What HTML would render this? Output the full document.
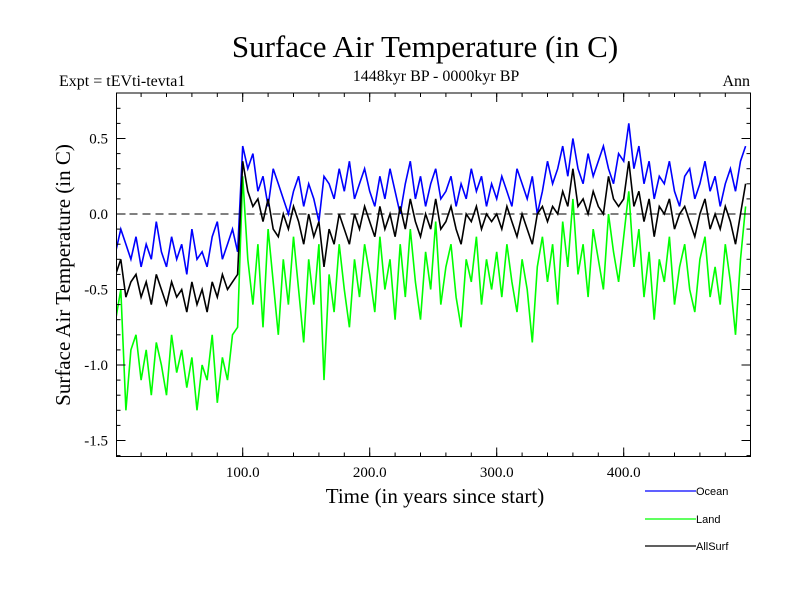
<!DOCTYPE html>
<html><head><meta charset="utf-8"><style>
html,body{margin:0;padding:0;background:#fff;}
svg{display:block;font-family:"Liberation Serif",serif;}
</style></head><body>
<svg id="chart" width="800" height="600">
<text x="425" y="57" font-size="31" text-anchor="middle">Surface Air Temperature (in C)</text>
<text x="59" y="86" font-size="16">Expt = tEVti-tevta1</text>
<text x="436" y="81" font-size="16" text-anchor="middle">1448kyr BP - 0000kyr BP</text>
<text x="750" y="86" font-size="16" text-anchor="end">Ann</text>
<text x="435" y="503" font-size="21" text-anchor="middle">Time (in years since start)</text>
<text transform="translate(70,275) rotate(-90)" font-size="21" text-anchor="middle">Surface Air Temperature (in C)</text>
<g id="plot"></g>
<g id="legend" font-family="Liberation Sans, sans-serif" font-size="11">
<g><line x1="645" y1="491" x2="696" y2="491" stroke="#0000ff" stroke-width="1.2"/><text x="696" y="495">Ocean</text></g>
<g><line x1="645" y1="519" x2="696" y2="519" stroke="#00ff00" stroke-width="1.2"/><text x="696" y="523">Land</text></g>
<g><line x1="645" y1="546" x2="696" y2="546" stroke="#000" stroke-width="1.2"/><text x="696" y="550">AllSurf</text></g>
</g>
</svg>
<script>
const years = []; for (let i = 0; i < 125; i++) years.push(i * 4);
const ocean = [-0.25,-0.1,-0.2,-0.3,-0.15,-0.35,-0.2,-0.3,-0.05,-0.25,-0.35,-0.15,-0.3,-0.2,-0.4,-0.1,-0.3,-0.25,-0.35,-0.15,-0.05,-0.3,-0.2,-0.1,-0.25,
0.45,0.3,0.4,0.15,0.25,0.05,0.3,0.2,0.1,0.0,0.15,0.25,0.05,0.2,0.1,-0.05,0.25,0.2,0.1,0.3,0.15,0.35,0.1,0.2,0.3,
0.15,0.05,0.25,0.1,0.3,0.15,0.0,0.2,0.35,0.1,0.25,0.05,0.2,0.3,0.1,0.15,0.25,0.05,0.2,0.1,0.3,0.15,0.25,0.05,0.2,
0.1,0.25,0.15,0.05,0.3,0.2,0.1,0.25,0.0,0.15,0.35,0.2,0.3,0.45,0.25,0.5,0.3,0.2,0.4,0.25,0.35,0.45,0.3,0.2,0.4,
0.35,0.6,0.3,0.45,0.2,0.35,0.1,0.25,0.2,0.35,0.15,0.05,0.25,0.3,0.1,0.2,0.35,0.15,0.25,0.05,0.2,0.3,0.15,0.35,0.45];
const land = [-0.7,-0.5,-1.3,-0.9,-0.8,-1.1,-0.9,-1.2,-0.85,-1.0,-1.2,-0.8,-1.05,-0.9,-1.15,-0.95,-1.3,-1.0,-1.1,-0.8,-1.25,-0.95,-1.1,-0.8,-0.75,
0.25,-0.3,-0.6,-0.2,-0.75,-0.1,-0.45,-0.8,-0.3,-0.6,-0.15,-0.5,-0.85,-0.3,-0.6,-0.2,-1.1,-0.4,-0.65,-0.2,-0.5,-0.75,-0.3,-0.55,-0.2,
-0.4,-0.65,-0.15,-0.5,-0.3,-0.7,-0.2,-0.55,-0.1,-0.45,-0.7,-0.25,-0.5,-0.05,-0.6,-0.35,-0.2,-0.55,-0.75,-0.3,-0.45,-0.15,-0.6,-0.3,-0.5,
-0.25,-0.55,-0.2,-0.45,-0.65,-0.3,-0.5,-0.85,-0.35,-0.15,-0.45,-0.2,-0.6,-0.05,-0.35,0.1,-0.4,-0.2,-0.55,-0.1,-0.3,-0.5,0.0,-0.25,-0.45,
-0.15,0.15,-0.35,-0.1,-0.55,-0.25,-0.7,-0.3,-0.45,-0.15,-0.6,-0.35,-0.2,-0.5,-0.65,-0.3,-0.15,-0.55,-0.35,-0.6,-0.2,-0.45,-0.8,-0.3,0.05];
const allsurf = [-0.4,-0.3,-0.55,-0.45,-0.4,-0.55,-0.45,-0.6,-0.4,-0.5,-0.6,-0.45,-0.55,-0.5,-0.65,-0.45,-0.6,-0.5,-0.65,-0.45,-0.55,-0.4,-0.5,-0.45,-0.4,
0.35,0.15,0.05,0.1,-0.05,0.1,-0.1,-0.15,0.0,-0.1,0.05,-0.05,-0.2,0.0,-0.15,-0.05,-0.35,-0.1,-0.2,0.0,-0.1,-0.2,0.0,-0.1,0.05,
-0.05,-0.15,0.05,-0.1,0.0,-0.15,0.05,-0.1,0.1,-0.05,-0.15,0.0,-0.1,0.1,-0.1,-0.05,0.05,-0.1,-0.2,0.0,-0.05,0.05,-0.1,0.0,-0.05,
0.0,-0.1,0.05,-0.05,-0.15,0.0,-0.1,-0.2,0.0,0.05,-0.05,0.05,0.0,0.15,0.05,0.3,0.05,0.1,0.0,0.15,0.05,0.0,0.25,0.1,0.05,
0.1,0.35,0.05,0.15,-0.05,0.1,-0.15,0.05,0.0,0.1,-0.1,0.0,0.05,-0.05,-0.15,0.0,0.1,-0.1,0.0,-0.1,0.05,-0.05,-0.2,0.0,0.2];
const yTicks = [0.5, 0.0, -0.5, -1.0, -1.5];
const yTickLabels = ["0.5", "0.0", "-0.5", "-1.0", "-1.5"];
const xTicks = [100, 200, 300, 400];
const xTickLabels = ["100.0", "200.0", "300.0", "400.0"];

const L = 116.5, R = 750.5, T = 93, B = 456.5;
const xs = v => 115.7 + v * 1.27;
const ys = v => 214 - v * 151;
const NS = "http://www.w3.org/2000/svg";
const plot = document.getElementById('plot');
function mk(tag, attrs, parent) { const e = document.createElementNS(NS, tag); for (const k in attrs) e.setAttribute(k, attrs[k]); (parent || plot).appendChild(e); return e; }

const clip = mk('clipPath', {id: 'clp'}); mk('rect', {x: L, y: T, width: R - L, height: B - T}, clip);
const zero = mk('line', {x1: L, x2: R, y1: ys(0), y2: ys(0), stroke: '#000', 'stroke-dasharray': '8,5', 'stroke-width': 1});



function series(vals, color, name) {
  const d = vals.map((v, i) => (i ? 'L' : 'M') + xs(years[i]).toFixed(1) + ' ' + ys(v).toFixed(1)).join(' ');
  const p = mk('path', {d: d, fill: 'none', stroke: color, 'stroke-width': 1.6, 'clip-path': 'url(#clp)'});
  
  
}
series(land, '#00ff00', 'land-line');
series(ocean, '#0000ff', 'ocean-line');
series(allsurf, '#000000', 'allsurf-line');

const frame = mk('rect', {x: L, y: T, width: R - L, height: B - T, fill: 'none', stroke: '#000', 'stroke-width': 1});



// minor ticks
for (let v = -1.6; v <= 0.75; v += 0.1) {
  const y = ys(v); if (y < T || y > B) continue;
  mk('line', {x1: L, x2: L + 4, y1: y, y2: y, stroke: '#000'});
  mk('line', {x1: R, x2: R - 4, y1: y, y2: y, stroke: '#000'});
}
for (let v = 20; v < 500; v += 20) {
  const x = xs(v);
  mk('line', {x1: x, x2: x, y1: B, y2: B - 4, stroke: '#000'});
  mk('line', {x1: x, x2: x, y1: T, y2: T + 4, stroke: '#000'});
}
yTicks.forEach((v, i) => {
  const y = ys(v);
  mk('line', {x1: L, x2: L + 9, y1: y, y2: y, stroke: '#000'});
  mk('line', {x1: R, x2: R - 9, y1: y, y2: y, stroke: '#000'});
  const t = mk('text', {x: 108, y: y + 5, 'font-size': 15, 'text-anchor': 'end'});
  t.textContent = yTickLabels[i];
  
  
});
xTicks.forEach((v, i) => {
  const x = xs(v);
  mk('line', {x1: x, x2: x, y1: B, y2: B - 9, stroke: '#000'});
  mk('line', {x1: x, x2: x, y1: T, y2: T + 9, stroke: '#000'});
  const t = mk('text', {x: x, y: 477, 'font-size': 15, 'text-anchor': 'middle'});
  t.textContent = xTickLabels[i];
  
  
});
</script>
</body></html>
